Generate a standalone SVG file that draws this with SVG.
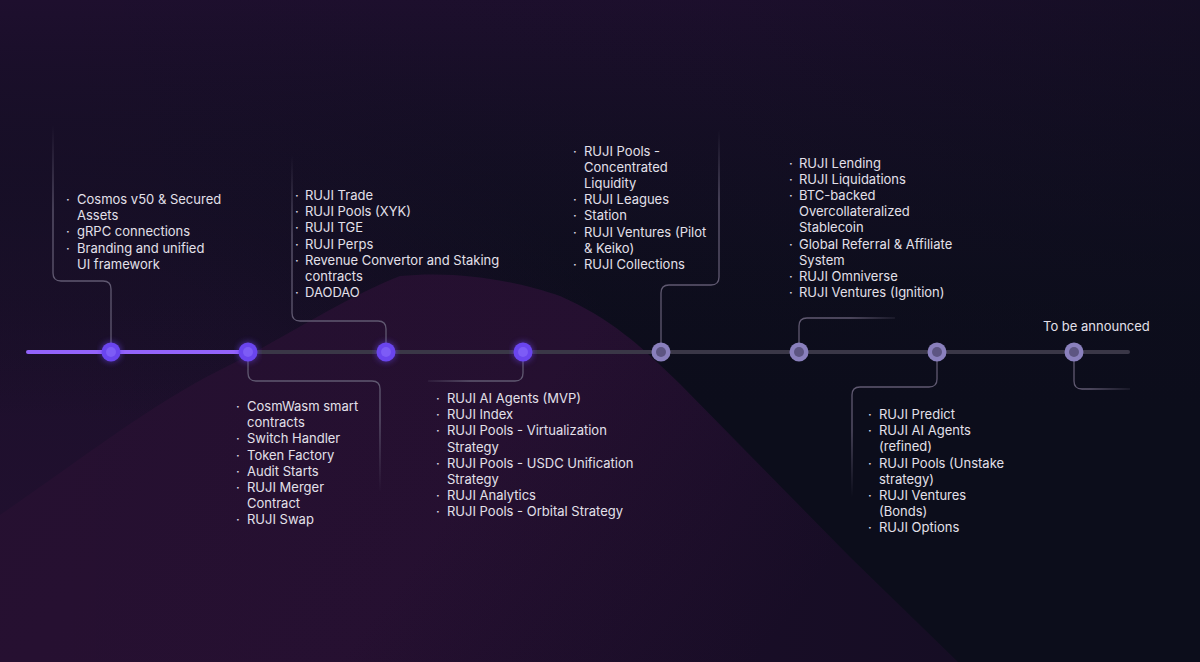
<svg xmlns="http://www.w3.org/2000/svg" width="1200" height="662" viewBox="0 0 1200 662">
<defs>
<style>
.t{font-family:Inter,"Open Sans","Liberation Sans",sans-serif;font-size:13px;fill:#e3e0ea}
.c{fill:none;stroke-width:1.3;stroke-linejoin:round}
</style>
<linearGradient id="bgTop" x1="0" y1="0" x2="0" y2="1">
<stop offset="0" stop-color="#1e0f2e"/>
<stop offset="0.5" stop-color="#150f25" stop-opacity="0.6"/>
<stop offset="1" stop-color="#0c0d1b" stop-opacity="0"/>
</linearGradient>
<linearGradient id="bgRight" x1="0" y1="0" x2="1" y2="0">
<stop offset="0" stop-color="#0c0d1b" stop-opacity="0"/>
<stop offset="0.6" stop-color="#0c0d1b" stop-opacity="0.1"/>
<stop offset="1" stop-color="#0c0d1b" stop-opacity="0.5"/>
</linearGradient>
<radialGradient id="leftGlow" cx="0" cy="662" r="700" gradientUnits="userSpaceOnUse">
<stop offset="0" stop-color="#221030"/>
<stop offset="0.6" stop-color="#1c0f2b"/>
<stop offset="1" stop-color="#1c0f2b" stop-opacity="0"/>
</radialGradient>
<linearGradient id="hill" x1="0" y1="0" x2="1" y2="0.3">
<stop offset="0" stop-color="#251030"/>
<stop offset="0.6" stop-color="#271032"/>
<stop offset="1" stop-color="#1a0d28"/>
</linearGradient>
<filter id="glow" x="-20%" y="-300%" width="140%" height="700%">
<feGaussianBlur stdDeviation="3"/>
</filter>
<linearGradient id="g1" gradientUnits="userSpaceOnUse" x1="0" y1="125" x2="0" y2="210"><stop offset="0" stop-color="#5f5870" stop-opacity="0"/><stop offset="1" stop-color="#5f5870"/></linearGradient>
<linearGradient id="g2" gradientUnits="userSpaceOnUse" x1="0" y1="492" x2="0" y2="420"><stop offset="0" stop-color="#5f5870" stop-opacity="0"/><stop offset="1" stop-color="#5f5870"/></linearGradient>
<linearGradient id="g3" gradientUnits="userSpaceOnUse" x1="0" y1="155" x2="0" y2="235"><stop offset="0" stop-color="#5f5870" stop-opacity="0"/><stop offset="1" stop-color="#5f5870"/></linearGradient>
<linearGradient id="g4" gradientUnits="userSpaceOnUse" x1="428" y1="0" x2="470" y2="0"><stop offset="0" stop-color="#5f5870" stop-opacity="0.2"/><stop offset="1" stop-color="#5f5870"/></linearGradient>
<linearGradient id="g5" gradientUnits="userSpaceOnUse" x1="0" y1="130" x2="0" y2="200"><stop offset="0" stop-color="#5f5870" stop-opacity="0"/><stop offset="1" stop-color="#5f5870"/></linearGradient>
<linearGradient id="g6" gradientUnits="userSpaceOnUse" x1="895" y1="0" x2="850" y2="0"><stop offset="0" stop-color="#5f5870" stop-opacity="0.2"/><stop offset="1" stop-color="#5f5870"/></linearGradient>
<linearGradient id="g7" gradientUnits="userSpaceOnUse" x1="0" y1="497" x2="0" y2="430"><stop offset="0" stop-color="#5f5870" stop-opacity="0"/><stop offset="1" stop-color="#5f5870"/></linearGradient>
<linearGradient id="g8" gradientUnits="userSpaceOnUse" x1="1130" y1="0" x2="1090" y2="0"><stop offset="0" stop-color="#5f5870" stop-opacity="0.2"/><stop offset="1" stop-color="#5f5870"/></linearGradient>
</defs>

<g id="background">
<rect width="1200" height="662" fill="#0c0d1b"/>
<rect width="1200" height="662" fill="url(#leftGlow)"/>
<rect width="1200" height="420" fill="url(#bgTop)"/>
<path d="M0,515 C80,460 150,405 220,370 C290,335 340,300 400,276 C460,270 520,282 560,296 C610,318 640,345 680,384 L850,557 L958,662 L0,662 Z" fill="url(#hill)"/>
<rect width="1200" height="662" fill="url(#bgRight)"/>
</g>

<g id="timeline">
<line x1="248" y1="352" x2="1128" y2="352" stroke="#3a3747" stroke-width="4" stroke-linecap="round"/>
<line x1="28" y1="352" x2="248" y2="352" stroke="#8a5af5" stroke-width="6" filter="url(#glow)" opacity="0.8"/>
<line x1="28" y1="352" x2="248" y2="352" stroke="#9363fb" stroke-width="4" stroke-linecap="round"/>
</g>

<g id="connectors">
<path class="c" stroke="url(#g1)" d="M53,125 V273 Q53,281 61,281 H103 Q111,281 111,289 V352"/>
<path class="c" stroke="url(#g2)" d="M248,352 V373 Q248,381 256,381 H372 Q380,381 380,389 V492"/>
<path class="c" stroke="url(#g3)" d="M292,155 V313 Q292,321 300,321 H378 Q386,321 386,329 V352"/>
<path class="c" stroke="url(#g4)" d="M523,352 V373 Q523,381 515,381 H428"/>
<path class="c" stroke="url(#g5)" d="M719,130 V277 Q719,285 711,285 H669 Q661,285 661,293 V352"/>
<path class="c" stroke="url(#g6)" d="M799,352 V326 Q799,318 807,318 H895"/>
<path class="c" stroke="url(#g7)" d="M937,352 V379 Q937,387 929,387 H860 Q852,387 852,395 V497"/>
<path class="c" stroke="url(#g8)" d="M1074,352 V381 Q1074,389 1082,389 H1130"/>
</g>

<g id="node1">
<circle cx="111" cy="352" r="10" fill="#6d45f0" filter="url(#glow)" opacity="0.6"/>
<circle cx="111" cy="352" r="9.5" fill="#6a45ee"/>
<circle cx="111" cy="352" r="5" fill="#7d5cf6"/>
<text class="t"><tspan x="66" y="204">·</tspan><tspan x="66" y="236.4">·</tspan><tspan x="66" y="252.6">·</tspan></text>
<text class="t"><tspan x="77" y="204">Cosmos v50 &amp; Secured</tspan><tspan x="77" y="220.2">Assets</tspan><tspan x="77" y="236.4">gRPC connections</tspan><tspan x="77" y="252.6">Branding and unified</tspan><tspan x="77" y="268.8">UI framework</tspan></text>
</g>

<g id="node2">
<circle cx="248" cy="352" r="10" fill="#6d45f0" filter="url(#glow)" opacity="0.6"/>
<circle cx="248" cy="352" r="9.5" fill="#6a45ee"/>
<circle cx="248" cy="352" r="5" fill="#7d5cf6"/>
<text class="t"><tspan x="236" y="411">·</tspan><tspan x="236" y="443.4">·</tspan><tspan x="236" y="459.6">·</tspan><tspan x="236" y="475.8">·</tspan><tspan x="236" y="492">·</tspan><tspan x="236" y="524.4">·</tspan></text>
<text class="t"><tspan x="247" y="411">CosmWasm smart</tspan><tspan x="247" y="427.2">contracts</tspan><tspan x="247" y="443.4">Switch Handler</tspan><tspan x="247" y="459.6">Token Factory</tspan><tspan x="247" y="475.8">Audit Starts</tspan><tspan x="247" y="492">RUJI Merger</tspan><tspan x="247" y="508.2">Contract</tspan><tspan x="247" y="524.4">RUJI Swap</tspan></text>
</g>

<g id="node3">
<circle cx="386" cy="352" r="10" fill="#6d45f0" filter="url(#glow)" opacity="0.6"/>
<circle cx="386" cy="352" r="9.5" fill="#6a45ee"/>
<circle cx="386" cy="352" r="5" fill="#7d5cf6"/>
<text class="t"><tspan x="295" y="200">·</tspan><tspan x="295" y="216.2">·</tspan><tspan x="295" y="232.4">·</tspan><tspan x="295" y="248.6">·</tspan><tspan x="295" y="264.8">·</tspan><tspan x="295" y="297.2">·</tspan></text>
<text class="t"><tspan x="305" y="200">RUJI Trade</tspan><tspan x="305" y="216.2">RUJI Pools (XYK)</tspan><tspan x="305" y="232.4">RUJI TGE</tspan><tspan x="305" y="248.6">RUJI Perps</tspan><tspan x="305" y="264.8">Revenue Convertor and Staking</tspan><tspan x="305" y="281">contracts</tspan><tspan x="305" y="297.2">DAODAO</tspan></text>
</g>

<g id="node4">
<circle cx="523" cy="352" r="10" fill="#6d45f0" filter="url(#glow)" opacity="0.6"/>
<circle cx="523" cy="352" r="9.5" fill="#6a45ee"/>
<circle cx="523" cy="352" r="5" fill="#7d5cf6"/>
<text class="t"><tspan x="436" y="403">·</tspan><tspan x="436" y="419.2">·</tspan><tspan x="436" y="435.4">·</tspan><tspan x="436" y="467.8">·</tspan><tspan x="436" y="500.2">·</tspan><tspan x="436" y="516.4">·</tspan></text>
<text class="t"><tspan x="447" y="403">RUJI AI Agents (MVP)</tspan><tspan x="447" y="419.2">RUJI Index</tspan><tspan x="447" y="435.4">RUJI Pools - Virtualization</tspan><tspan x="447" y="451.6">Strategy</tspan><tspan x="447" y="467.8">RUJI Pools - USDC Unification</tspan><tspan x="447" y="484">Strategy</tspan><tspan x="447" y="500.2">RUJI Analytics</tspan><tspan x="447" y="516.4">RUJI Pools - Orbital Strategy</tspan></text>
</g>

<g id="node5">
<circle cx="661" cy="352" r="9.5" fill="#8a80bd"/>
<circle cx="661" cy="352" r="5" fill="#5d5582"/>
<text class="t"><tspan x="573" y="155.5">·</tspan><tspan x="573" y="204.1">·</tspan><tspan x="573" y="220.3">·</tspan><tspan x="573" y="236.5">·</tspan><tspan x="573" y="268.9">·</tspan></text>
<text class="t"><tspan x="584" y="155.5">RUJI Pools -</tspan><tspan x="584" y="171.7">Concentrated</tspan><tspan x="584" y="187.9">Liquidity</tspan><tspan x="584" y="204.1">RUJI Leagues</tspan><tspan x="584" y="220.3">Station</tspan><tspan x="584" y="236.5">RUJI Ventures (Pilot</tspan><tspan x="584" y="252.7">&amp; Keiko)</tspan><tspan x="584" y="268.9">RUJI Collections</tspan></text>
</g>

<g id="node6">
<circle cx="799" cy="352" r="9.5" fill="#8a80bd"/>
<circle cx="799" cy="352" r="5" fill="#5d5582"/>
<text class="t"><tspan x="789" y="167.5">·</tspan><tspan x="789" y="183.7">·</tspan><tspan x="789" y="199.9">·</tspan><tspan x="789" y="248.5">·</tspan><tspan x="789" y="280.9">·</tspan><tspan x="789" y="297.1">·</tspan></text>
<text class="t"><tspan x="799" y="167.5">RUJI Lending</tspan><tspan x="799" y="183.7">RUJI Liquidations</tspan><tspan x="799" y="199.9">BTC-backed</tspan><tspan x="799" y="216.1">Overcollateralized</tspan><tspan x="799" y="232.3">Stablecoin</tspan><tspan x="799" y="248.5">Global Referral &amp; Affiliate</tspan><tspan x="799" y="264.7">System</tspan><tspan x="799" y="280.9">RUJI Omniverse</tspan><tspan x="799" y="297.1">RUJI Ventures (Ignition)</tspan></text>
</g>

<g id="node7">
<circle cx="937" cy="352" r="9.5" fill="#8a80bd"/>
<circle cx="937" cy="352" r="5" fill="#5d5582"/>
<text class="t"><tspan x="868" y="419">·</tspan><tspan x="868" y="435.2">·</tspan><tspan x="868" y="467.6">·</tspan><tspan x="868" y="500">·</tspan><tspan x="868" y="532.4">·</tspan></text>
<text class="t"><tspan x="879" y="419">RUJI Predict</tspan><tspan x="879" y="435.2">RUJI AI Agents</tspan><tspan x="879" y="451.4">(refined)</tspan><tspan x="879" y="467.6">RUJI Pools (Unstake</tspan><tspan x="879" y="483.8">strategy)</tspan><tspan x="879" y="500">RUJI Ventures</tspan><tspan x="879" y="516.2">(Bonds)</tspan><tspan x="879" y="532.4">RUJI Options</tspan></text>
</g>

<g id="node8">
<circle cx="1074" cy="352" r="9.5" fill="#8a80bd"/>
<circle cx="1074" cy="352" r="5" fill="#5d5582"/>
<text class="t" x="1043" y="330.5">To be announced</text>
</g>
</svg>
